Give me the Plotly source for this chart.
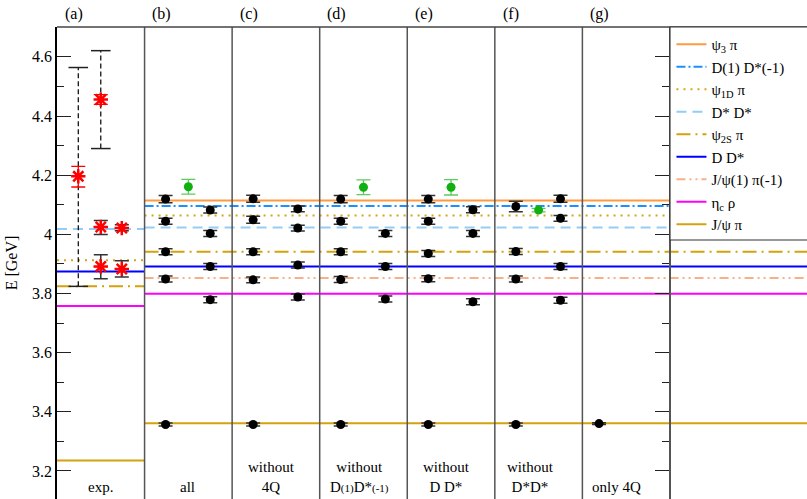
import plotly.graph_objects as go

# ---------------- data ----------------
panel_tags = ["(a)", "(b)", "(c)", "(d)", "(e)", "(f)", "(g)"]
panel_names = ["exp.", "all", "without<br>4Q",
               "without<br>D<span style='font-size:11px'>(1)</span>D*<span style='font-size:11px'>(-1)</span>",
               "without<br>D D*", "without<br>D*D*", "only 4Q"]

# thresholds: name, experimental value (panel a, None if absent), lattice value (panels b-g)
thr_names = ["ψ<sub>3</sub> π", "D(1) D*(-1)", "ψ<sub>1D</sub> π", "D* D*", "ψ<sub>2S</sub> π",
             "D D*", "J/ψ(1) π(-1)", "η<sub>c</sub> ρ", "J/ψ π"]
thr_exp = [None, None, 3.912, 4.018, 3.824, 3.874, None, 3.758, 3.235]
thr_lat = [4.114, 4.096, 4.064, 4.023, 3.941, 3.891, 3.852, 3.799, 3.361]
thr_colors = ["#ff9a40", "#1e8fff", "#d9a41c", "#93cdf7", "#d4a20c",
              "#0000ff", "#f7b088", "#ff00ff", "#d4a20c"]
thr_dash = ["solid", "9px,3px,2px,3px", "2px,5px", "10px,6px", "14px,5px,2px,5px",
            "solid", "9px,4px,2px,4px,2px,4px", "solid", "solid"]

# experimental states (panel a)
exp_col = [0, 1, 1, 1, 2, 2]
exp_E = [4.196, 4.4555, 4.025, 3.891, 4.021, 3.883]
exp_err_hi = [0.034, 0.017, 0.0, 0.0, 0.0, 0.0]
exp_err_lo = [0.036, 0.016, 0.0, 0.0, 0.0, 0.0]
# solid black uncertainty bars
sys_col = [1, 1, 2, 2]
sys_E = [4.025, 3.891, 4.021, 3.883]
sys_hi = [4.047, 3.931, 4.032, 3.911]
sys_lo = [3.999, 3.850, 4.012, 3.856]
# dashed (widths) bars
wid_col = [0, 1]
wid_hi = [4.564, 4.621]
wid_lo = [3.824, 4.290]

# lattice levels, per panel (1=b ... 6=g); column 0 = left, 2 = right
lat_panel = [1, 1, 1, 1, 1, 1, 1, 1, 1,
             2, 2, 2, 2, 2, 2, 2, 2, 2,
             3, 3, 3, 3, 3, 3, 3, 3,
             4, 4, 4, 4, 4, 4, 4, 4,
             5, 5, 5, 5, 5, 5, 5, 5,
             6]
lat_col = [0, 0, 0, 0, 0, 2, 2, 2, 2,
           0, 0, 0, 0, 0, 2, 2, 2, 2,
           0, 0, 0, 0, 0, 2, 2, 2,
           0, 0, 0, 0, 0, 2, 2, 2,
           0, 0, 0, 0, 2, 2, 2, 2,
           3]
lat_E = [4.119, 4.044, 3.941, 3.849, 3.357, 4.082, 4.003, 3.891, 3.779,
         4.120, 4.049, 3.941, 3.846, 3.357, 4.086, 4.021, 3.896, 3.788,
         4.119, 4.044, 3.941, 3.847, 3.357, 4.003, 3.891, 3.781,
         4.119, 4.044, 3.935, 3.850, 3.357, 4.083, 4.003, 3.772,
         4.094, 3.942, 3.849, 3.357, 4.120, 4.054, 3.891, 3.777,
         3.360]
lat_err = [0.012, 0.010, 0.010, 0.010, 0.005, 0.010, 0.010, 0.010, 0.010,
           0.012, 0.012, 0.010, 0.010, 0.005, 0.010, 0.010, 0.010, 0.010,
           0.012, 0.010, 0.010, 0.010, 0.005, 0.010, 0.010, 0.010,
           0.012, 0.010, 0.010, 0.010, 0.005, 0.010, 0.010, 0.010,
           0.018, 0.010, 0.010, 0.005, 0.012, 0.010, 0.010, 0.010,
           0.003]
# scattering-state (green) levels
sc_panel = [1, 3, 4, 5]
sc_E = [4.161, 4.159, 4.159, 4.082]
sc_err = [0.025, 0.025, 0.026, 0.006]

y_ticks = [3.2, 3.4, 3.6, 3.8, 4.0, 4.2, 4.4, 4.6]
y_ticktext = ["3.2", "3.4", "3.6", "3.8", "4", "4.2", "4.4", "4.6"]

# ---------------- layout helpers ----------------
XMAX = 8.565
YMIN, YMAX = 3.105, 4.701
col_off = {0: 0.24, 1: 0.5, 2: 0.75, 3: 0.19}
exp_off = {0: 0.243, 1: 0.5, 2: 0.74}
name_x = [0.5, 1.49, 2.45, 3.46, 4.45, 5.41, 6.39]
FONT = "Liberation Serif, Times New Roman, serif"

fig = go.Figure()

# threshold lines
for name, ex, la, c, d in zip(thr_names, thr_exp, thr_lat, thr_colors, thr_dash):
    if ex is None:
        xs, ys = [1, 9], [la, la]
    else:
        xs, ys = [0, 1, None, 1, 9], [ex, ex, None, la, la]
    fig.add_trace(go.Scatter(x=xs, y=ys, mode="lines", name=name,
                             line=dict(color=c, width=2, dash=d),
                             hoverinfo="skip"))

# dashed width bars
for c, hi, lo in zip(wid_col, wid_hi, wid_lo):
    xc = exp_off[c]
    fig.add_trace(go.Scatter(x=[xc, xc], y=[lo, hi], mode="lines",
                             line=dict(color="black", width=1.2, dash="5px,3px"),
                             showlegend=False, hoverinfo="skip"))
    fig.add_trace(go.Scatter(x=[xc, xc], y=[lo, hi], mode="markers",
                             marker=dict(symbol="line-ew", size=14,
                                         line=dict(color="#222", width=1.5)),
                             showlegend=False, hoverinfo="skip"))

# solid uncertainty bars
fig.add_trace(go.Scatter(
    x=[exp_off[c] for c in sys_col], y=sys_E, mode="markers",
    marker=dict(size=1, color="rgba(0,0,0,0)"),
    error_y=dict(type="data", symmetric=False,
                 array=[h - e for h, e in zip(sys_hi, sys_E)],
                 arrayminus=[e - l for l, e in zip(sys_lo, sys_E)],
                 color="#333", thickness=1.5, width=7),
    showlegend=False, hoverinfo="skip"))

# experimental stars
fig.add_trace(go.Scatter(
    x=[exp_off[c] for c in exp_col], y=exp_E, mode="markers",
    marker=dict(symbol="asterisk", size=12, color="red",
                line=dict(color="red", width=2.5)),
    error_y=dict(type="data", symmetric=False, array=exp_err_hi,
                 arrayminus=exp_err_lo, color="red", thickness=1.3, width=7),
    showlegend=False, hoverinfo="skip"))

# lattice levels
fig.add_trace(go.Scatter(
    x=[p + col_off[c] for p, c in zip(lat_panel, lat_col)], y=lat_E, mode="markers",
    marker=dict(size=9, color="black"),
    error_y=dict(type="data", array=lat_err, color="#333", thickness=1.5, width=7),
    showlegend=False, hoverinfo="skip"))

# scattering-state levels
fig.add_trace(go.Scatter(
    x=[p + col_off[1] for p in sc_panel], y=sc_E, mode="markers",
    marker=dict(size=9, color="#10b010"),
    error_y=dict(type="data", array=sc_err, color="#5ccc5c", thickness=1.3, width=7),
    showlegend=False, hoverinfo="skip"))

shapes = []
# panel separators
for i in range(1, 7):
    shapes.append(dict(type="line", xref="x", yref="paper", x0=i, x1=i, y0=0, y1=1,
                       line=dict(color="#555", width=1.5), layer="above"))
# top frame
shapes.append(dict(type="line", xref="paper", yref="paper", x0=0, x1=1, y0=1, y1=1,
                   line=dict(color="#444", width=1.5), layer="above"))
# legend box
LX = 7 / XMAX
shapes.append(dict(type="rect", xref="paper", yref="paper", x0=LX, x1=1.02,
                   y0=(499 - 240) / 472, y1=1,
                   fillcolor="white", line=dict(color="#333", width=1.2), layer="above"))

annotations = []
for i, t in enumerate(panel_tags):
    annotations.append(dict(x=i + 0.19, y=1 + 13 / 472, xref="x", yref="paper",
                            text=t, showarrow=False, font=dict(family=FONT, size=16, color="black"),
                            xanchor="center", yanchor="middle"))
for i, t in enumerate(panel_names):
    two = "<br>" in t
    annotations.append(dict(x=name_x[i], y=(499 - (477 if two else 487)) / 472,
                            xref="x", yref="paper", text=t, showarrow=False,
                            font=dict(family=FONT, size=15, color="black"),
                            xanchor="center", yanchor="middle"))

fig.update_layout(
    width=807, height=499,
    margin=dict(l=57, r=0, t=27, b=0),
    paper_bgcolor="white", plot_bgcolor="white",
    font=dict(family=FONT, size=16, color="black"),
    xaxis=dict(range=[0, XMAX], showgrid=False, zeroline=False, showticklabels=False,
               ticks="", showline=False),
    yaxis=dict(range=[YMIN, YMAX], showgrid=False, zeroline=False,
               tickvals=y_ticks, ticktext=y_ticktext, ticks="inside", ticklen=14,
               tickwidth=1.2, tickcolor="#222",
               minor=dict(dtick=0.1, ticks="inside", ticklen=7, tickwidth=1.2, tickcolor="#222"),
               showline=True, linecolor="black", linewidth=1.5,
               tickfont=dict(family=FONT, size=16),
               title=dict(text="E [GeV]", font=dict(family=FONT, size=16), standoff=10)),
    yaxis2=dict(range=[YMIN, YMAX], overlaying="y", anchor="free", position=LX,
                side="right", showgrid=False, zeroline=False, showticklabels=False,
                tickvals=y_ticks, ticks="inside", ticklen=14, tickwidth=1.2, tickcolor="#222",
                minor=dict(dtick=0.1, ticks="inside", ticklen=7, tickwidth=1.2, tickcolor="#222"),
                showline=True, linecolor="#555", linewidth=1.5),
    legend=dict(x=LX + 0.002, y=1 - 1 / 472, xanchor="left", yanchor="top",
                bgcolor="rgba(0,0,0,0)", borderwidth=0,
                font=dict(family=FONT, size=15, color="black"),
                itemwidth=30, tracegroupgap=0),
    shapes=shapes, annotations=annotations,
    showlegend=True,
)
# dummy trace to activate yaxis2
fig.add_trace(go.Scatter(x=[None], y=[None], yaxis="y2", showlegend=False, hoverinfo="skip"))

fig.write_html("out.html", config={"displayModeBar": False},
               post_script="document.body.style.margin='0';document.body.style.padding='0';")
